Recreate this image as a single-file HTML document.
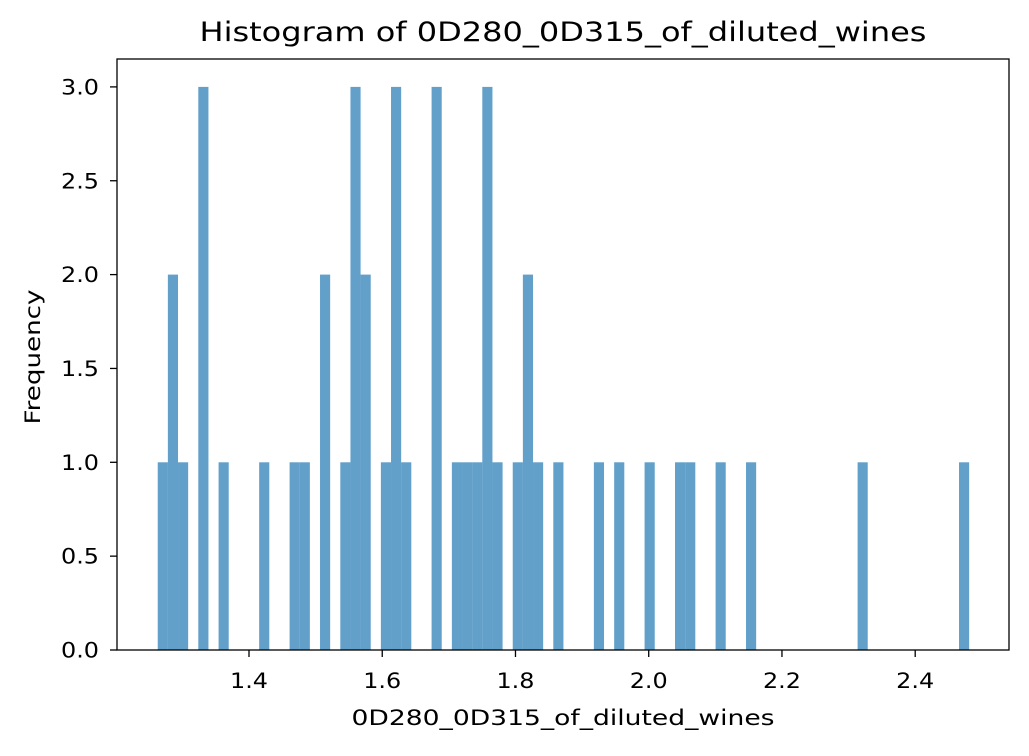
<!DOCTYPE html>
<html><head><meta charset="utf-8"><style>
body{margin:0;background:#fff;font-family:"Liberation Sans","DejaVu Sans",sans-serif;}
svg text{font-family:"DejaVu Sans","Liberation Sans",sans-serif;fill:#000;}
</style></head><body>
<svg id="chart" width="1029" height="751"></svg>
<script>
const binCounts = [1,2,1,0,3,0,1,0,0,0,1,0,0,1,1,0,2,0,1,3,2,0,1,3,1,0,0,3,0,1,1,1,3,1,0,1,2,1,0,1,0,0,0,1,0,1,0,0,1,0,0,1,1,0,0,1,0,0,1,0,0,0,0,0,0,0,0,0,0,1,0,0,0,0,0,0,0,0,0,1];
const binLo = 1.263, binHi = 2.481;
const xTicks = [1.4,1.6,1.8,2.0,2.2,2.4];
const xTickLabels = ["1.4","1.6","1.8","2.0","2.2","2.4"];
const yTicks = [0,0.5,1,1.5,2,2.5,3];
const yTickLabels = ["0.0","0.5","1.0","1.5","2.0","2.5","3.0"];

const NS="http://www.w3.org/2000/svg";
const svg=document.getElementById('chart');
const L=117,R=1009,T=59,B=650;
const xs=v=>249+(v-1.4)*666.2;
const ys=v=>650-v*187.7;
function mk(t,a){const e=document.createElementNS(NS,t);for(const k in a)e.setAttribute(k,a[k]);svg.appendChild(e);return e;}
const bw=(binHi-binLo)/binCounts.length;
binCounts.forEach((c,i)=>{ if(!c)return;
  const x0=xs(binLo+i*bw), x1=xs(binLo+(i+1)*bw);
  const r=mk('rect',{x:x0,y:ys(c),width:x1-x0,height:ys(0)-ys(c),fill:'#1f77b4','fill-opacity':0.7});
  
  
});
const fr=mk('rect',{x:L,y:T,width:R-L,height:B-T,fill:'none',stroke:'#000','stroke-width':1.3});


xTicks.forEach((v,i)=>{const x=xs(v);
  mk('line',{x1:x,x2:x,y1:B,y2:B+7,stroke:'#000','stroke-width':1.3});
  const t=mk('text',{x:x,y:688,'font-size':21.5,'text-anchor':'middle',textLength:38,lengthAdjust:'spacingAndGlyphs'});t.textContent=xTickLabels[i];
  
  
});
yTicks.forEach((v,i)=>{const y=ys(v);
  mk('line',{x1:L-7,x2:L,y1:y,y2:y,stroke:'#000','stroke-width':1.3});
  const t=mk('text',{x:99,y:y+7.5,'font-size':21.5,'text-anchor':'end',textLength:38,lengthAdjust:'spacingAndGlyphs'});t.textContent=yTickLabels[i];
  
  
});
let t=mk('text',{x:563,y:41,'font-size':26.5,'text-anchor':'middle',textLength:727,lengthAdjust:'spacingAndGlyphs'});t.textContent='Histogram of 0D280_0D315_of_diluted_wines';


t=mk('text',{x:563,y:725,'font-size':21.5,'text-anchor':'middle',textLength:423,lengthAdjust:'spacingAndGlyphs'});t.textContent='0D280_0D315_of_diluted_wines';


t=mk('text',{x:0,y:0,'font-size':21.5,'text-anchor':'middle',textLength:135,lengthAdjust:'spacingAndGlyphs',transform:'translate(40,357) rotate(-90)'});t.textContent='Frequency';


</script>
</body></html>
